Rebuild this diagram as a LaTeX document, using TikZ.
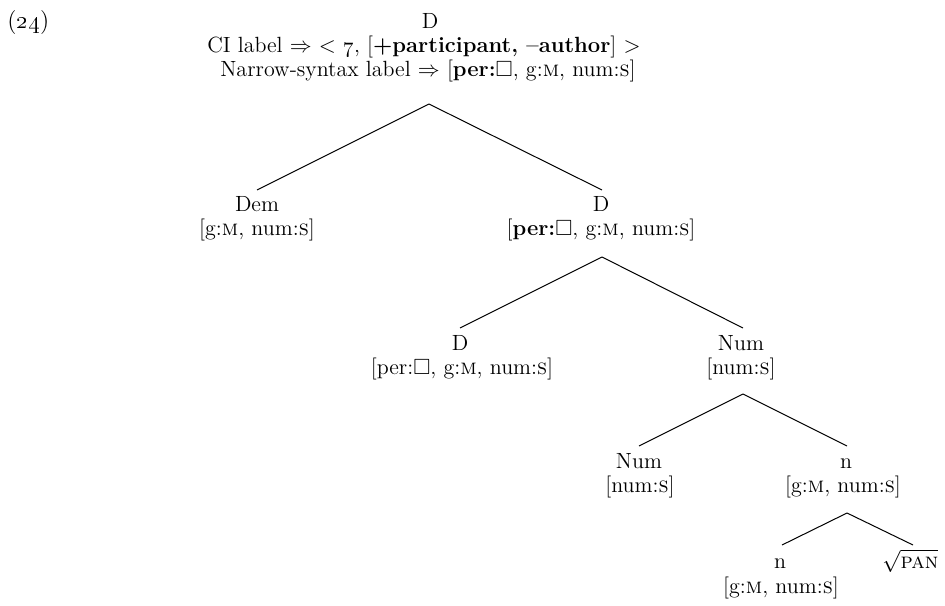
\documentclass[tikz,border=0pt]{standalone}
\usepackage{amssymb}
\usetikzlibrary{calc}
\tikzset{
  lab/.style={inner sep=0pt, anchor=base, font=\fontsize{11}{12}\selectfont},
  edge/.style={draw=black, line width=0.5pt},
}
\newcommand{\bx}{$\square$}
\begin{document}
\begin{tikzpicture}[x=0.5pt,y=-0.5pt]
\useasboundingbox (0,0) rectangle (945,605);
\node[lab, anchor=base west, font=\fontsize{12}{13}\selectfont] (ex) at (7,28) {(\oldstylenums{24})};
% root
\node[lab] (rootL) at (430,28) {D};
\node[lab] (rootCI) at (424,52) {CI label $\Rightarrow$ $<$ \oldstylenums{7}, [\textbf{+participant, --author}] $>$};
\node[lab] (rootNS) at (428,76) {Narrow-syntax label $\Rightarrow$ [\textbf{per:}\bx, g:\textsc{m}, num:\textsc{s}]};
% level 1
\node[lab] (demL) at (257,211) {Dem};
\node[lab] (demF) at (257,235) {[g:\textsc{m}, num:\textsc{s}]};
\node[lab] (dAL) at (601,211) {D};
\node[lab] (dAF) at (601,235) {[\textbf{per:}\bx, g:\textsc{m}, num:\textsc{s}]};
% level 2
\node[lab] (dBL) at (460,350) {D};
\node[lab] (dBF) at (462,374) {[per:\bx, g:\textsc{m}, num:\textsc{s}]};
\node[lab] (numAL) at (741,350) {Num};
\node[lab] (numAF) at (741,374) {[num:\textsc{s}]};
% level 3
\node[lab] (numBL) at (639,468) {Num};
\node[lab] (numBF) at (640,492) {[num:\textsc{s}]};
\node[lab] (nAL) at (846,468) {n};
\node[lab] (nAF) at (843,492) {[g:\textsc{m}, num:\textsc{s}]};
% level 4
\node[lab] (nBL) at (780,568) {n};
\node[lab] (nBF) at (781,593) {[g:\textsc{m}, num:\textsc{s}]};
\node[lab, anchor=base west] (pan) at (882,568) {$\sqrt{\mbox{\textsc{pan}}}$};
% edges
\draw[edge] ($(rootNS.base)+(1,28)$) -- ($(demL.base)+(0,-21)$);
\draw[edge] ($(rootNS.base)+(1,28)$) -- ($(dAL.base)+(1,-21)$);
\draw[edge] ($(dAF.base)+(1,22)$) -- ($(dBL.base)+(0,-22)$);
\draw[edge] ($(dAF.base)+(1,22)$) -- ($(numAL.base)+(2,-22)$);
\draw[edge] ($(numAF.base)+(2,20)$) -- ($(numBL.base)+(0,-22)$);
\draw[edge] ($(numAF.base)+(2,20)$) -- ($(nAL.base)+(1,-22)$);
\draw[edge] ($(nAF.base)+(4,21)$) -- ($(nBL.base)+(2,-23)$);
\draw[edge] ($(nAF.base)+(4,21)$) -- ($(pan.base west)+(31,-23)$);
\end{tikzpicture}
\end{document}
